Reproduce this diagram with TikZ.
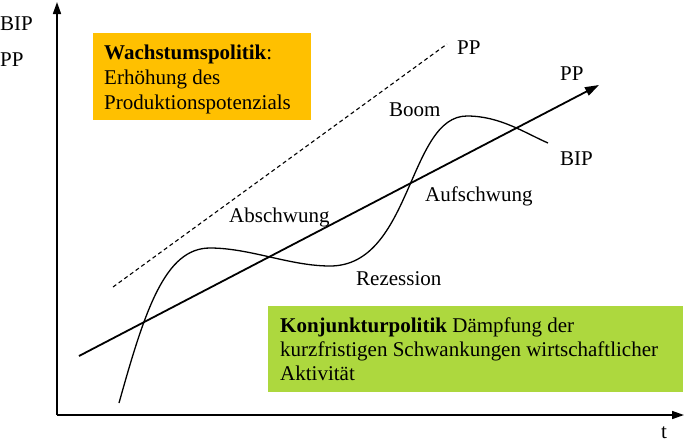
\documentclass[tikz,border=0pt]{standalone}
\usepackage{fontspec}
\setmainfont{Liberation Serif}
\usetikzlibrary{arrows.meta}
\definecolor{wachs}{RGB}{255,192,0}
\definecolor{konj}{RGB}{173,216,62}
\tikzset{
  lbl/.style={anchor=base west, inner sep=0pt, font=\fontsize{21}{25}\selectfont},
  axis/.style={line width=1.6pt, -{Triangle[length=12pt,width=8pt]}},
  ppline/.style={line width=1.8pt, -{Triangle[length=14pt,width=9pt]}},
  dashline/.style={line width=1.1pt, dash pattern=on 4pt off 3pt},
  bipcurve/.style={line width=1.3pt},
  panel/.style={inner sep=0pt, anchor=north west}
}
\begin{document}
\begin{tikzpicture}[x=1pt,y=-1pt]
\useasboundingbox (0,0) rectangle (685,442);
% boxes
\node[panel, fill=wachs, minimum width=218pt, minimum height=87pt] (wbox) at (93,33) {};
\node[panel, fill=konj, minimum width=415pt, minimum height=86pt] (kbox) at (268,306) {};
% axes
\coordinate (O) at (57,415);
\coordinate (ytop) at (57,2);
\coordinate (xend) at (684,415);
\draw[axis] (O) -- (ytop);
\draw[axis] (O) -- (xend);
% PP lines
\coordinate (ppA) at (79,356);
\coordinate (ppB) at (599,85);
\draw[ppline] (ppA) -- (ppB);
\coordinate (dA) at (113,287);
\coordinate (dB) at (447,44);
\draw[dashline] (dA) -- (dB);
% BIP curve
\draw[bipcurve] (119,403) .. controls (145,310) and (165,248) .. (210,248)
  .. controls (250,248) and (290,266) .. (330,266)
  .. controls (412,266) and (408,116) .. (467,116)
  .. controls (500,116) and (525,133) .. (548,143);
% labels
\node[lbl] (bipL) at (0,30) {BIP};
\node[lbl] (ppL) at (0,66) {PP};
\node[lbl] (ppD) at (457,54) {PP};
\node[lbl] (ppS) at (560,80) {PP};
\node[lbl] (bipR) at (560,165) {BIP};
\node[lbl] (boom) at (389,116) {Boom};
\node[lbl] (auf) at (425,201) {Aufschwung};
\node[lbl] (ab) at (229,222) {Abschwung};
\node[lbl] (rez) at (356,285) {Rezession};
\node[lbl] (tlab) at (661,438) {t};
% box texts
\node[lbl] (w1) at (104,59) {\textbf{Wachstumspolitik}:};
\node[lbl] (w2) at (104,84) {Erhöhung des};
\node[lbl] (w3) at (104,109) {Produktionspotenzials};
\node[lbl] (k1) at (280,332) {\textbf{Konjunkturpolitik} Dämpfung der};
\node[lbl] (k2) at (280,356) {kurzfristigen Schwankungen wirtschaftlicher};
\node[lbl] (k3) at (280,380) {Aktivität};
\end{tikzpicture}
\end{document}
